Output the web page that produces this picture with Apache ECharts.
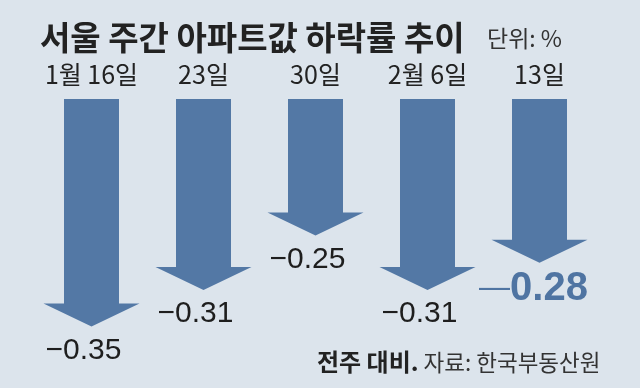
<!DOCTYPE html>
<html>
<head>
<meta charset="utf-8">
<script src="https://cdn.jsdelivr.net/npm/echarts@6/dist/echarts.min.js"></script>
<style>
html,body{margin:0;padding:0;background:#dce4ec;}
#c{width:640px;height:388px;}
</style>
</head>
<body>
<div id="c"></div>
<script>
const categories = ['1월 16일', '23일', '30일', '2월 6일', '13일'];
const values = [-0.35, -0.31, -0.25, -0.31, -0.28];
const highlightIndex = 4;
const titleText = '서울 주간 아파트값 하락률 추이';
const unitText = '단위: %';
const noteText = '전주 대비.';
const sourceText = '자료: 한국부동산원';

const ARROW = '#5378a5';
const HI = '#4f74a2';
const CJK = 'Noto Sans CJK KR';
const NARROW = '"Liberation Sans Narrow", "Noto Sans CJK KR"';

const chart = echarts.init(document.getElementById('c'));
chart.setOption({
  backgroundColor: '#dce4ec',
  animation: false,
  title: [
    { text: titleText, left: 35, top: 16,
      textStyle: { fontFamily: CJK, fontSize: 33, fontWeight: 'bold', color: '#222' } },
    { text: unitText, left: 482, top: 22,
      textStyle: { fontFamily: NARROW, fontSize: 23, fontWeight: 'normal', color: '#333' } },
    { text: '{b|' + noteText + '} {n|' + sourceText + '}', left: 312, top: 345,
      textStyle: { rich: {
        b: { fontFamily: CJK, fontSize: 24, fontWeight: 'bold', color: '#222' },
        n: { fontFamily: CJK, fontSize: 22.5, fontWeight: 'normal', color: '#333' }
      } } }
  ],
  grid: { left: 35.5, right: 44.5, top: 99, bottom: 16 },
  xAxis: {
    type: 'category', data: categories, position: 'top',
    axisLine: { show: false }, axisTick: { show: false },
    axisLabel: { interval: 0, margin: 12, fontFamily: NARROW, fontSize: 25, color: '#222' }
  },
  yAxis: {
    type: 'value', inverse: true, min: 0.1, max: 0.4, show: false
  },
  series: [{
    type: 'custom',
    data: values.map((v, i) => [i, -v]),
    renderItem: function (params, api) {
      const i = api.value(0);
      const v = api.value(1);
      const top = api.coord([i, 0.1]);
      const tip = api.coord([i, v]);
      const cx = top[0];
      const sh = 27.5, hh = 48, hl = 23;
      const y0 = top[1], y1 = tip[1];
      const pts = [[cx - sh, y0], [cx + sh, y0], [cx + sh, y1 - hl], [cx + hh, y1 - hl],
                   [cx, y1], [cx - hh, y1 - hl], [cx - sh, y1 - hl]];
      const raw = values[params.dataIndex];
      const num = Math.abs(raw).toFixed(2);
      const isHi = params.dataIndex === highlightIndex;
      const txt = isHi ? {
        type: 'text',
        style: {
          x: cx - 6, y: y1 + 26, align: 'center', verticalAlign: 'middle',
          text: '{d|—}{n|' + num + '}',
          fill: HI,
          rich: {
            d: { fontFamily: 'Liberation Sans', fontSize: 31, fontWeight: 'normal', fill: HI, verticalAlign: 'middle' },
            n: { fontFamily: 'Liberation Sans', fontSize: 40, fontWeight: 'bold', fill: HI, verticalAlign: 'middle' }
          }
        }
      } : {
        type: 'text',
        style: {
          x: cx - 8, y: y1 + 24, align: 'center', verticalAlign: 'middle',
          text: '−' + num,
          fontFamily: 'Liberation Sans', fontSize: 30, fill: '#1e1e1e'
        }
      };
      return {
        type: 'group',
        children: [
          { type: 'polygon', shape: { points: pts }, style: { fill: ARROW } },
          txt
        ]
      };
    }
  }]
});
</script>
</body>
</html>
